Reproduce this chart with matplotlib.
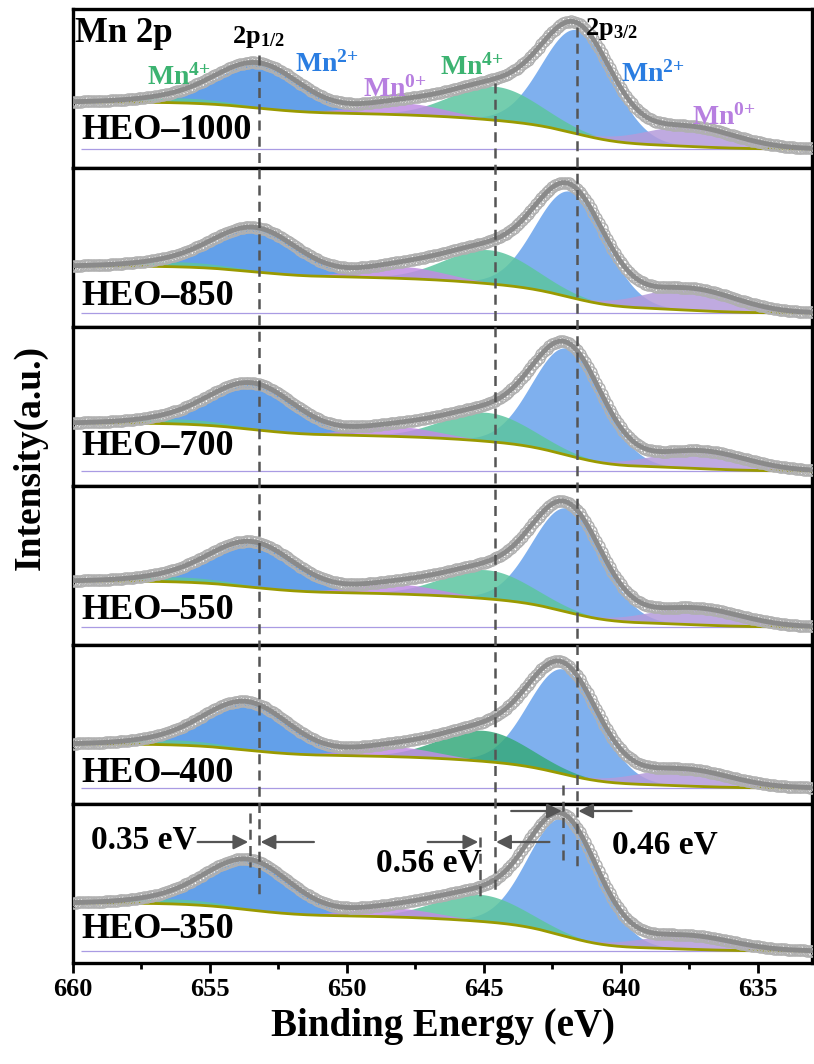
import numpy as np
import matplotlib
matplotlib.use('Agg')
import matplotlib.pyplot as plt

plt.rcParams['font.family'] = ['Liberation Serif', 'DejaVu Serif']
plt.rcParams['font.weight'] = 'bold'
plt.rcParams['mathtext.fontset'] = 'custom'
plt.rcParams['mathtext.rm'] = 'Liberation Serif:bold'
plt.rcParams['mathtext.bf'] = 'Liberation Serif:bold'
plt.rcParams['mathtext.it'] = 'Liberation Serif:bold'

# samples, top to bottom
samples = ['HEO–1000', 'HEO–850', 'HEO–700', 'HEO–550', 'HEO–400', 'HEO–350']

# background (Shirley) end levels, panel units (pixel heights)
bg_low = [19, 14, 15, 18, 16, 12]
bg_high = [66, 61, 63, 64, 60, 60]
base_line = [19, 14, 15, 18, 16, 12]
label_y = [29, 22, 31, 26, 22, 25]

# Mn2+ 2p3/2 / 2p1/2
mn2_32_pos = [641.6, 641.85, 641.95, 641.95, 642.1, 642.1]
mn2_32_amp = [104, 106, 107, 104, 105, 117]
mn2_12_pos = [653.2, 653.3, 653.4, 653.4, 653.6, 653.55]
mn2_12_amp = [44, 43, 45, 44, 47, 49]
# Mn4+
mn4_32_pos = [644.6, 644.8, 644.9, 644.9, 645.0, 645.15]
mn4_32_amp = [34, 34, 29, 29, 31, 27]
mn4_12_pos = [656.0, 656.0, 656.0, 656.0, 656.2, 656.2]
mn4_12_amp = [5, 5, 5, 5, 5, 5]
# Mn0
mn0_32_pos = [637.5, 637.5, 637.1, 637.3, 637.7, 637.6]
mn0_32_amp = [20, 22, 18, 17, 17, 14]
mn0_12_pos = [648.0, 648.0, 648.2, 648.2, 648.3, 648.3]
mn0_12_amp = [12, 12, 10, 10, 10, 9]

fwhm = {'mn2_32': 3.0, 'mn2_12': 3.6, 'mn4_32': 3.8, 'mn4_12': 4.0,
        'mn0_32': 4.0, 'mn0_12': 3.6}

# reference lines (HEO-1000) and shifts marked on HEO-350
ref_lines = [653.2, 644.6, 641.6]
shift_text = ['0.35 eV', '0.56 eV', '0.46 eV']

BLUE1 = '#5b9be8'
BLUE2 = '#78acee'
GREEN = '#5cc5a0'
GREEN_DARK = '#36a97c'
PURPLE1 = '#c08de3'
PURPLE2 = '#b49bdb'


def gauss(x, c, a, w):
    return a * np.exp(-4 * np.log(2) * ((x - c) / w) ** 2)


x = np.linspace(633, 660, 1081)

fig = plt.figure(figsize=(8.14, 10.64), dpi=100)
left, right, top, bottom = 73 / 814, 0.998, 1 - 9 / 1064, 1 - 963 / 1064
gs = fig.add_gridspec(6, 1, left=left, right=right, top=top, bottom=bottom, hspace=0)

for i, name in enumerate(samples):
    ax = fig.add_subplot(gs[i])
    # blue first, green / purple drawn over it
    comps = [
        ('mn2_12', mn2_12_pos[i], mn2_12_amp[i], BLUE1, 0.95),
        ('mn2_32', mn2_32_pos[i], mn2_32_amp[i], BLUE2, 0.95),
        ('mn4_12', mn4_12_pos[i], mn4_12_amp[i], GREEN, 0.85),
        ('mn4_32', mn4_32_pos[i], mn4_32_amp[i], GREEN_DARK if i == 4 else GREEN, 0.85),
        ('mn0_12', mn0_12_pos[i], mn0_12_amp[i], PURPLE1, 0.85),
        ('mn0_32', mn0_32_pos[i], mn0_32_amp[i], PURPLE2, 0.85),
    ]
    peaks = [gauss(x, c, a, fwhm[k]) for k, c, a, col, al in comps]
    total = np.sum(peaks, axis=0)
    cum = np.cumsum(total)
    bg = bg_low[i] + (bg_high[i] - bg_low[i]) * cum / cum[-1]
    env = bg + total

    ax.hlines(base_line[i], 659.7, 633, color='#a99be3', lw=0.9, zorder=1)
    for (k, c, a, col, al), p in zip(comps, peaks):
        ax.fill_between(x, bg, bg + p, where=p > 0.3, color=col, alpha=al,
                        lw=0, zorder=2)
    ax.plot(x, bg, color='#9a9a00', lw=2, zorder=3)
    ax.plot(x[::4], env[::4], 'o', mfc='none', mec='#b0b0b0', ms=8, mew=1.0,
            zorder=4)
    ax.plot(x, env, color='#8a8a8a', lw=3.5, zorder=5)

    ax.text(659.7, label_y[i], name, fontsize=26, fontweight='bold',
            ha='left', va='baseline', zorder=6)

    ax.set_xlim(660, 633)
    ax.set_ylim(0, 159)
    ax.set_yticks([])
    for s in ax.spines.values():
        s.set_linewidth(2.4)
    if i < 5:
        ax.set_xticks([])
    else:
        ax.set_xticks([660, 655, 650, 645, 640, 635])
        ax.set_xticks(np.arange(657.5, 633, -5), minor=True)
        ax.tick_params(axis='x', which='major', direction='out', length=7,
                       width=2, labelsize=19, pad=4)
        ax.tick_params(axis='x', which='minor', direction='out', length=4,
                       width=2)
        for t in ax.get_xticklabels():
            t.set_fontweight('bold')
        ax.set_xlabel('Binding Energy (eV)', fontsize=28, fontweight='bold',
                      labelpad=5)

fig.text(0.037, 0.57, 'Intensity(a.u.)', rotation=90, fontsize=27,
         fontweight='bold', ha='center', va='center')

# overlay in pixel rows for annotations
ov = fig.add_axes([left, bottom, right - left, top - bottom], zorder=10)
ov.set_xlim(660, 633)
ov.set_ylim(963, 9)
ov.axis('off')
ov.patch.set_alpha(0)

dash = dict(color='#555555', lw=1.8, ls=(0, (4, 2.5)))
ov.vlines(ref_lines[0], 55, 898, **dash)
ov.vlines(ref_lines[1], 83, 890, **dash)
ov.vlines(ref_lines[2], 27, 867, **dash)
ov.vlines(mn2_12_pos[5], 813, 867, **dash)
ov.vlines(mn4_32_pos[5], 837, 898, **dash)
ov.vlines(mn2_32_pos[5], 785, 860, **dash)

arrow = dict(arrowstyle='-|>', color='#555555', lw=1.6, mutation_scale=22)
pairs = [(mn2_12_pos[5], ref_lines[0], 842),
         (mn4_32_pos[5], ref_lines[1], 842),
         (mn2_32_pos[5], ref_lines[2], 811)]
for hi, lo, yy in pairs:
    ov.annotate('', xy=(hi - 0.05, yy), xytext=(hi + 2.0, yy), arrowprops=arrow)
    ov.annotate('', xy=(lo + 0.05, yy), xytext=(lo - 2.1, yy), arrowprops=arrow)

ov.text(657.4, 840, shift_text[0], fontsize=24, ha='center', va='center')
ov.text(647.0, 863, shift_text[1], fontsize=24, ha='center', va='center')
ov.text(638.4, 845, shift_text[2], fontsize=24, ha='center', va='center')

# peak labels
ov.text(659.93, 42, 'Mn 2p', fontsize=25, ha='left', va='baseline')
ov.text(654.2, 43, '2p$_{1/2}$', fontsize=19, ha='left', va='baseline')
ov.text(641.3, 35, '2p$_{3/2}$', fontsize=19, ha='left', va='baseline')
ov.text(651.9, 72, 'Mn$^{2{+}}$', fontsize=20, color='#2a7de1', ha='left', va='baseline')
ov.text(657.3, 85, 'Mn$^{4{+}}$', fontsize=20, color='#3cb371', ha='left', va='baseline')
ov.text(649.4, 97, 'Mn$^{0{+}}$', fontsize=20, color='#b77fe0', ha='left', va='baseline')
ov.text(646.6, 75, 'Mn$^{4{+}}$', fontsize=20, color='#3cb371', ha='left', va='baseline')
ov.text(640.0, 82, 'Mn$^{2{+}}$', fontsize=20, color='#2a7de1', ha='left', va='baseline')
ov.text(637.4, 125, 'Mn$^{0{+}}$', fontsize=20, color='#b77fe0', ha='left', va='baseline')

fig.savefig('out.png', dpi=100)
